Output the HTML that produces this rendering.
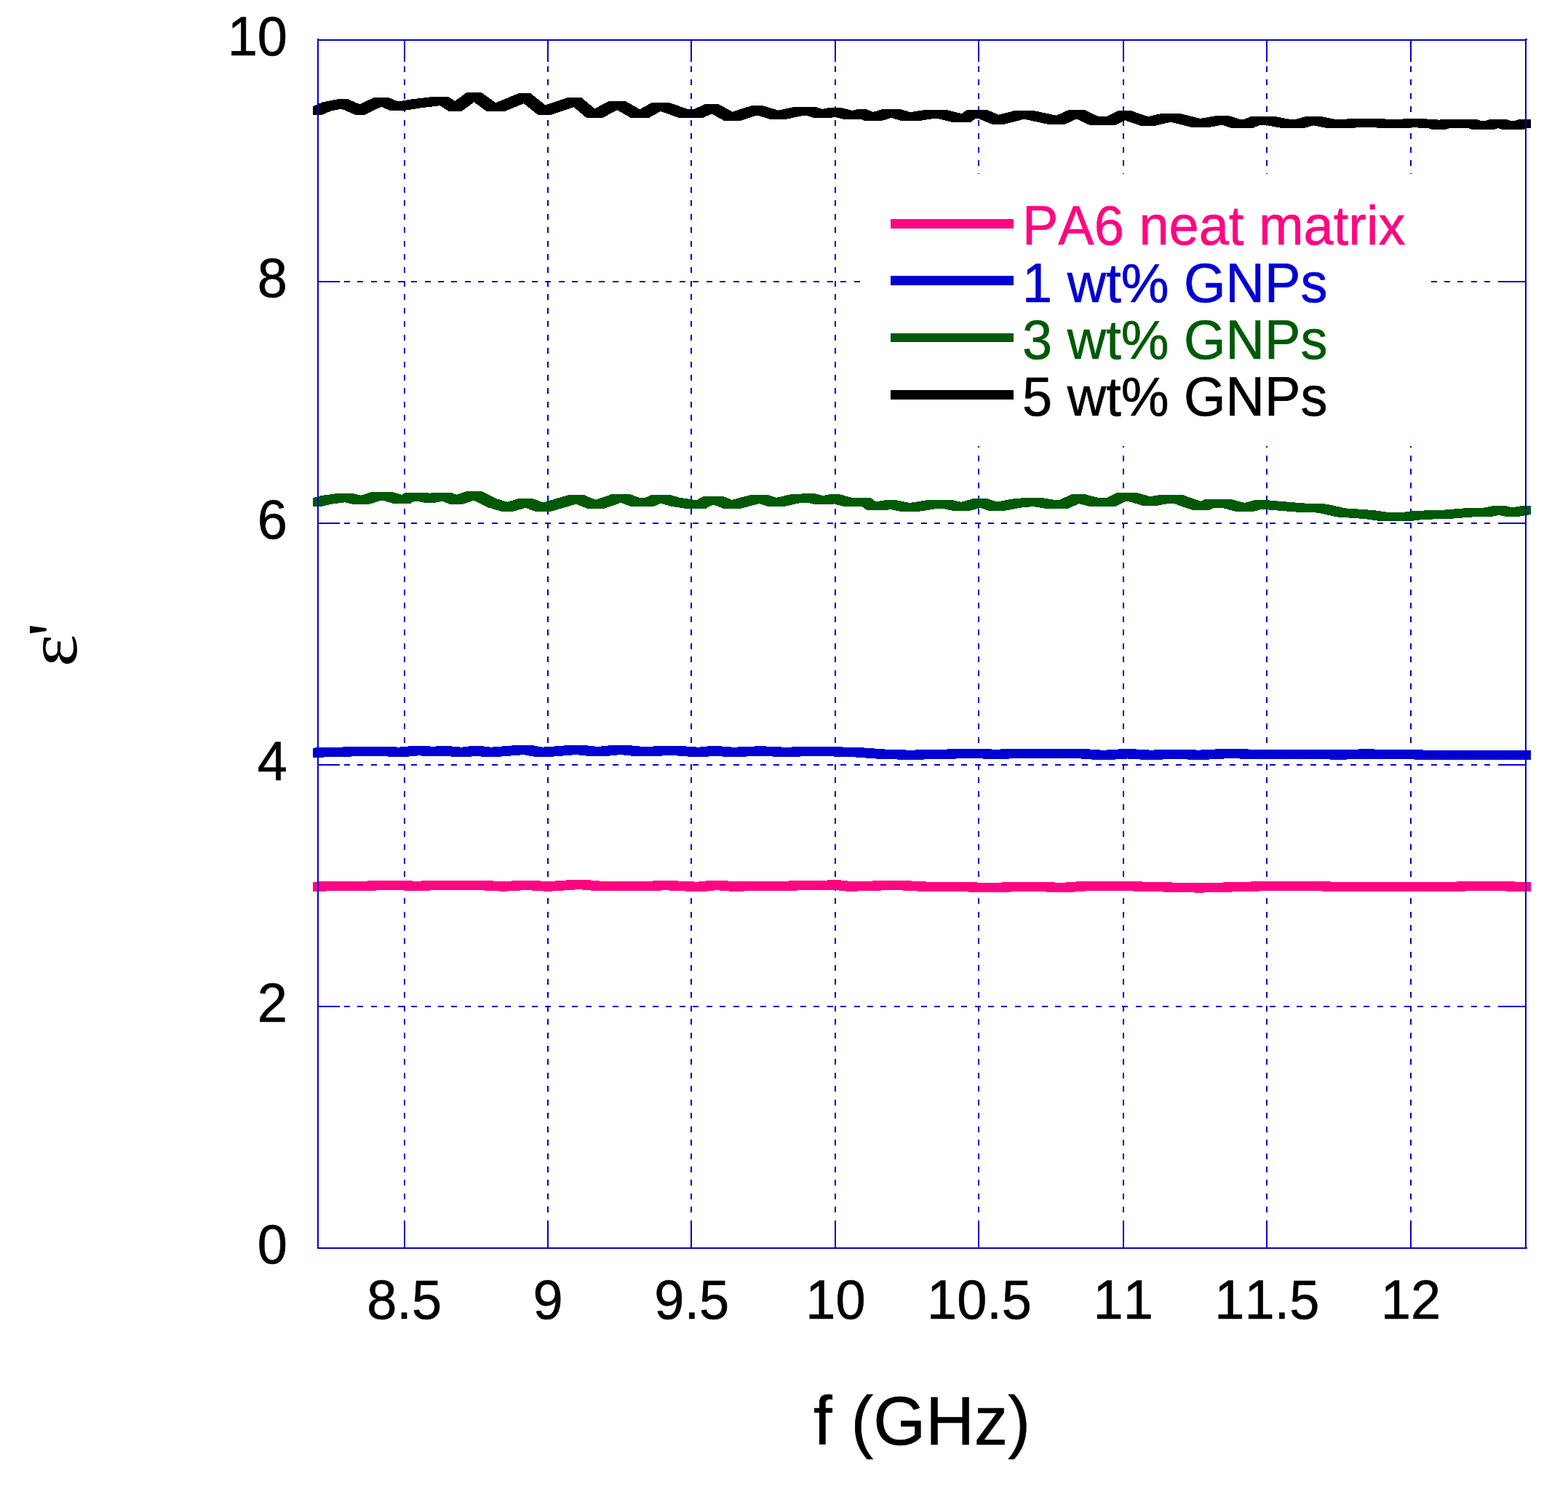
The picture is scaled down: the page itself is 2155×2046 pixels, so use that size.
<!DOCTYPE html>
<html lang="en"><head><meta charset="utf-8"><title>Permittivity vs frequency</title>
<style>html,body{margin:0;padding:0;background:#fff}body{width:2155px;height:2046px;overflow:hidden}svg{display:block}text{font-family:"Liberation Sans",sans-serif;font-kerning:none;stroke-width:0.6px;stroke-linejoin:round}.sym{font-family:"Liberation Serif",serif}</style>
</head><body>
<svg width="2155" height="2046" viewBox="0 0 2155 2046">
<rect width="2155" height="2046" fill="#fff"/>
<g stroke="#0000D2" stroke-width="2" fill="none" shape-rendering="crispEdges" stroke-dasharray="8 10.44">
<line x1="556" y1="54" x2="556" y2="1715"/>
<line x1="753" y1="54" x2="753" y2="1715"/>
<line x1="950" y1="54" x2="950" y2="1715"/>
<line x1="1148" y1="54" x2="1148" y2="1715"/>
<line x1="1345" y1="54" x2="1345" y2="1715"/>
<line x1="1544" y1="54" x2="1544" y2="1715"/>
<line x1="1741" y1="54" x2="1741" y2="1715"/>
<line x1="1939" y1="54" x2="1939" y2="1715"/>
<line x1="436" y1="1383" x2="2097" y2="1383"/>
<line x1="436" y1="1051" x2="2097" y2="1051"/>
<line x1="436" y1="719" x2="2097" y2="719"/>
<line x1="436" y1="387" x2="2097" y2="387"/>
</g>
<rect x="1186" y="239" width="776" height="374" fill="#fff"/>
<g shape-rendering="crispEdges">
<path d="M430.0,1211.6 519.1,1210.3 531.1,1210.3 531.1,1223.3 442.0,1224.6 430.0,1224.6ZM519.1,1210.3 531.1,1210.3 583.2,1210.6 583.2,1223.6 571.2,1223.6 519.1,1223.3ZM571.2,1210.6 650.3,1209.7 662.3,1209.7 662.3,1222.7 583.2,1223.6 571.2,1223.6ZM650.3,1209.7 662.3,1209.7 698.3,1211.5 698.3,1224.5 686.3,1224.5 650.3,1222.7ZM686.3,1211.5 717.3,1209.7 729.3,1209.7 729.3,1222.7 698.3,1224.5 686.3,1224.5ZM717.3,1209.7 729.3,1209.7 759.4,1211.5 759.4,1224.5 747.4,1224.5 717.3,1222.7ZM747.4,1211.5 790.0,1208.7 802.0,1208.7 802.0,1221.7 759.4,1224.5 747.4,1224.5ZM790.0,1208.7 802.0,1208.7 829.5,1211.0 829.5,1224.0 817.5,1224.0 790.0,1221.7ZM817.5,1211.0 829.5,1211.0 899.3,1211.3 899.3,1224.3 887.3,1224.3 817.5,1224.0ZM887.3,1211.3 905.6,1209.8 917.6,1209.8 917.6,1222.8 899.3,1224.3 887.3,1224.3ZM905.6,1209.8 917.6,1209.8 966.1,1212.1 966.1,1225.1 954.1,1225.1 905.6,1222.8ZM954.1,1212.1 978.5,1209.7 990.5,1209.7 990.5,1222.7 966.1,1225.1 954.1,1225.1ZM978.5,1209.7 990.5,1209.7 1015.7,1211.6 1015.7,1224.6 1003.7,1224.6 978.5,1222.7ZM1003.7,1211.6 1078.8,1210.6 1090.8,1210.6 1090.8,1223.6 1015.7,1224.6 1003.7,1224.6ZM1078.8,1210.6 1142.7,1209.4 1154.7,1209.4 1154.7,1222.4 1090.8,1223.6 1078.8,1223.6ZM1142.7,1209.4 1154.7,1209.4 1175.9,1211.6 1175.9,1224.6 1163.9,1224.6 1142.7,1222.4ZM1163.9,1211.6 1224.8,1209.7 1236.8,1209.7 1236.8,1222.7 1175.9,1224.6 1163.9,1224.6ZM1224.8,1209.7 1236.8,1209.7 1279.3,1211.8 1279.3,1224.8 1267.3,1224.8 1224.8,1222.7ZM1267.3,1211.8 1279.3,1211.8 1370.5,1212.8 1370.5,1225.8 1358.5,1225.8 1267.3,1224.8ZM1358.5,1212.8 1419.3,1211.8 1431.3,1211.8 1431.3,1224.8 1370.5,1225.8 1358.5,1225.8ZM1419.3,1211.8 1431.3,1211.8 1467.8,1213.2 1467.8,1226.2 1455.8,1226.2 1419.3,1224.8ZM1455.8,1213.2 1486.3,1211.0 1498.3,1211.0 1498.3,1224.0 1467.8,1226.2 1455.8,1226.2ZM1486.3,1211.0 1498.3,1211.0 1562.0,1211.3 1562.0,1224.3 1550.0,1224.3 1486.3,1224.0ZM1550.0,1211.3 1562.0,1211.3 1606.4,1212.4 1606.4,1225.4 1594.4,1225.4 1550.0,1224.3ZM1594.4,1212.4 1606.4,1212.4 1654.0,1213.5 1654.0,1226.5 1642.0,1226.5 1594.4,1225.4ZM1642.0,1213.5 1727.2,1211.3 1739.2,1211.3 1739.2,1224.3 1654.0,1226.5 1642.0,1226.5ZM1727.2,1211.3 1739.2,1211.3 1818.2,1211.3 1818.2,1224.3 1806.2,1224.3 1727.2,1224.3ZM1806.2,1211.3 1818.2,1211.3 1860.7,1212.1 1860.7,1225.1 1848.7,1225.1 1806.2,1224.3ZM1848.7,1212.1 2055.5,1211.3 2067.5,1211.3 2067.5,1224.3 1860.7,1225.1 1848.7,1225.1ZM2055.5,1211.3 2067.5,1211.3 2104.0,1211.8 2104.0,1224.8 2092.0,1224.8 2055.5,1224.3Z" fill="#FF0582" stroke="none"/>
<path d="M430.0,1027.8 443.0,1026.5 455.0,1026.5 455.0,1039.5 442.0,1040.8 430.0,1040.8ZM443.0,1026.5 455.0,1026.5 483.0,1026.5 483.0,1039.5 471.0,1039.5 443.0,1039.5ZM471.0,1026.5 493.1,1025.8 505.1,1025.8 505.1,1038.8 483.0,1039.5 471.0,1039.5ZM493.1,1025.8 505.1,1025.8 535.1,1025.8 535.1,1038.8 523.1,1038.8 493.1,1038.8ZM523.1,1025.8 535.1,1025.8 550.1,1026.9 550.1,1039.9 538.1,1039.9 523.1,1038.8ZM538.1,1026.9 550.1,1026.9 558.1,1026.9 558.1,1039.9 546.1,1039.9 538.1,1039.9ZM546.1,1026.9 564.2,1025.2 576.2,1025.2 576.2,1038.2 558.1,1039.9 546.1,1039.9ZM564.2,1025.2 576.2,1025.2 584.2,1025.2 584.2,1038.2 572.2,1038.2 564.2,1038.2ZM572.2,1025.2 584.2,1025.2 602.2,1026.0 602.2,1039.0 590.2,1039.0 572.2,1038.2ZM590.2,1026.0 605.2,1025.2 617.2,1025.2 617.2,1038.2 602.2,1039.0 590.2,1039.0ZM605.2,1025.2 617.2,1025.2 636.2,1026.9 636.2,1039.9 624.2,1039.9 605.2,1038.2ZM624.2,1026.9 636.2,1026.9 644.2,1026.9 644.2,1039.9 632.2,1039.9 624.2,1039.9ZM632.2,1026.9 648.3,1025.0 660.3,1025.0 660.3,1038.0 644.2,1039.9 632.2,1039.9ZM648.3,1025.0 660.3,1025.0 676.3,1026.9 676.3,1039.9 664.3,1039.9 648.3,1038.0ZM664.3,1026.9 676.3,1026.9 684.3,1026.9 684.3,1039.9 672.3,1039.9 664.3,1039.9ZM672.3,1026.9 710.3,1023.9 722.3,1023.9 722.3,1036.9 684.3,1039.9 672.3,1039.9ZM710.3,1023.9 722.3,1023.9 730.3,1023.9 730.3,1036.9 718.3,1036.9 710.3,1036.9ZM718.3,1023.9 730.3,1023.9 747.4,1026.9 747.4,1039.9 735.4,1039.9 718.3,1036.9ZM735.4,1026.9 747.4,1026.9 755.4,1026.9 755.4,1039.9 743.4,1039.9 735.4,1039.9ZM743.4,1026.9 782.4,1023.9 794.4,1023.9 794.4,1036.9 755.4,1039.9 743.4,1039.9ZM782.4,1023.9 794.4,1023.9 802.4,1023.9 802.4,1036.9 790.4,1036.9 782.4,1036.9ZM790.4,1023.9 802.4,1023.9 823.5,1026.2 823.5,1039.2 811.5,1039.2 790.4,1036.9ZM811.5,1026.2 823.5,1026.2 831.5,1026.2 831.5,1039.2 819.5,1039.2 811.5,1039.2ZM819.5,1026.2 842.5,1023.9 854.5,1023.9 854.5,1036.9 831.5,1039.2 819.5,1039.2ZM842.5,1023.9 854.5,1023.9 862.5,1023.9 862.5,1036.9 850.5,1036.9 842.5,1036.9ZM850.5,1023.9 862.5,1023.9 886.5,1026.2 886.5,1039.2 874.5,1039.2 850.5,1036.9ZM874.5,1026.2 886.5,1026.2 894.5,1026.2 894.5,1039.2 882.5,1039.2 874.5,1039.2ZM882.5,1026.2 908.6,1025.0 920.6,1025.0 920.6,1038.0 894.5,1039.2 882.5,1039.2ZM908.6,1025.0 920.6,1025.0 935.6,1025.0 935.6,1038.0 923.6,1038.0 908.6,1038.0ZM923.6,1025.0 935.6,1025.0 962.6,1026.9 962.6,1039.9 950.6,1039.9 923.6,1038.0ZM950.6,1026.9 962.6,1026.9 969.6,1026.9 969.6,1039.9 957.6,1039.9 950.6,1039.9ZM957.6,1026.9 975.7,1025.2 987.7,1025.2 987.7,1038.2 969.6,1039.9 957.6,1039.9ZM975.7,1025.2 987.7,1025.2 1010.7,1026.9 1010.7,1039.9 998.7,1039.9 975.7,1038.2ZM998.7,1026.9 1010.7,1026.9 1017.7,1026.9 1017.7,1039.9 1005.7,1039.9 998.7,1039.9ZM1005.7,1026.9 1039.2,1025.4 1051.2,1025.4 1051.2,1038.4 1017.7,1039.9 1005.7,1039.9ZM1039.2,1025.4 1051.2,1025.4 1075.6,1026.6 1075.6,1039.6 1063.6,1039.6 1039.2,1038.4ZM1063.6,1026.6 1139.7,1026.3 1151.7,1026.3 1151.7,1039.3 1075.6,1039.6 1063.6,1039.6ZM1139.7,1026.3 1151.7,1026.3 1188.1,1027.5 1188.1,1040.5 1176.1,1040.5 1139.7,1039.3ZM1176.1,1027.5 1188.1,1027.5 1218.5,1029.7 1218.5,1042.7 1206.5,1042.7 1176.1,1040.5ZM1206.5,1029.7 1218.5,1029.7 1258.0,1030.9 1258.0,1043.9 1246.0,1043.9 1206.5,1042.7ZM1246.0,1030.9 1282.5,1029.7 1294.5,1029.7 1294.5,1042.7 1258.0,1043.9 1246.0,1043.9ZM1282.5,1029.7 1343.3,1029.1 1355.3,1029.1 1355.3,1042.1 1294.5,1042.7 1282.5,1042.7ZM1343.3,1029.1 1355.3,1029.1 1373.5,1030.0 1373.5,1043.0 1361.5,1043.0 1343.3,1042.1ZM1361.5,1030.0 1398.1,1028.7 1410.1,1028.7 1410.1,1041.7 1373.5,1043.0 1361.5,1043.0ZM1398.1,1028.7 1410.1,1028.7 1455.6,1029.1 1455.6,1042.1 1443.6,1042.1 1398.1,1041.7ZM1443.6,1029.1 1474.1,1028.7 1486.1,1028.7 1486.1,1041.7 1455.6,1042.1 1443.6,1042.1ZM1474.1,1028.7 1486.1,1028.7 1522.5,1031.2 1522.5,1044.2 1510.5,1044.2 1474.1,1041.7ZM1510.5,1031.2 1543.3,1029.1 1555.3,1029.1 1555.3,1042.1 1522.5,1044.2 1510.5,1044.2ZM1543.3,1029.1 1555.3,1029.1 1585.4,1030.9 1585.4,1043.9 1573.4,1043.9 1543.3,1042.1ZM1573.4,1030.9 1611.6,1029.7 1623.6,1029.7 1623.6,1042.7 1585.4,1043.9 1573.4,1043.9ZM1611.6,1029.7 1623.6,1029.7 1654.0,1030.9 1654.0,1043.9 1642.0,1043.9 1611.6,1042.7ZM1642.0,1030.9 1672.4,1029.4 1684.4,1029.4 1684.4,1042.4 1654.0,1043.9 1642.0,1043.9ZM1672.4,1029.4 1684.4,1029.4 1769.6,1029.7 1769.6,1042.7 1757.6,1042.7 1672.4,1042.4ZM1757.6,1029.7 1769.6,1029.7 1848.7,1030.6 1848.7,1043.6 1836.7,1043.6 1757.6,1042.7ZM1836.7,1030.6 1869.7,1029.4 1881.7,1029.4 1881.7,1042.4 1848.7,1043.6 1836.7,1043.6ZM1869.7,1029.4 1881.7,1029.4 1982.4,1030.9 1982.4,1043.9 1970.4,1043.9 1869.7,1042.4ZM1970.4,1030.9 1982.4,1030.9 2104.0,1030.9 2104.0,1043.9 2092.0,1043.9 1970.4,1043.9Z" fill="#0000D2" stroke="none"/>
<path d="M430.0,684.0 443.4,680.8 455.4,680.8 455.4,692.8 442.0,696.0 430.0,696.0ZM443.4,680.8 463.3,678.0 475.3,678.0 475.3,690.0 455.4,692.8 443.4,692.8ZM463.3,678.0 475.3,678.0 485.6,678.0 485.6,690.0 473.6,690.0 463.3,690.0ZM473.6,678.0 485.6,678.0 496.6,681.0 496.6,693.0 484.6,693.0 473.6,690.0ZM484.6,681.0 496.6,681.0 506.9,681.0 506.9,693.0 494.9,693.0 484.6,693.0ZM494.9,681.0 510.4,676.0 522.4,676.0 522.4,688.0 506.9,693.0 494.9,693.0ZM510.4,676.0 522.4,676.0 538.8,676.0 538.8,688.0 526.8,688.0 510.4,688.0ZM526.8,676.0 538.8,676.0 552.8,680.0 552.8,692.0 540.8,692.0 526.8,688.0ZM540.8,680.0 552.8,680.0 564.6,680.0 564.6,692.0 552.6,692.0 540.8,692.0ZM552.6,680.0 556.1,677.0 568.1,677.0 568.1,689.0 564.6,692.0 552.6,692.0ZM556.1,677.0 568.1,677.0 585.9,677.0 585.9,689.0 573.9,689.0 556.1,689.0ZM573.9,677.0 585.9,677.0 596.8,679.0 596.8,691.0 584.8,691.0 573.9,689.0ZM584.8,679.0 594.0,677.0 606.0,677.0 606.0,689.0 596.8,691.0 584.8,691.0ZM594.0,677.0 606.0,677.0 620.9,677.0 620.9,689.0 608.9,689.0 594.0,689.0ZM608.9,677.0 620.9,677.0 630.3,681.0 630.3,693.0 618.3,693.0 608.9,689.0ZM618.3,681.0 630.3,681.0 636.0,681.0 636.0,693.0 624.0,693.0 618.3,693.0ZM624.0,681.0 641.2,675.0 653.2,675.0 653.2,687.0 636.0,693.0 624.0,693.0ZM641.2,675.0 653.2,675.0 662.0,675.0 662.0,687.0 650.0,687.0 641.2,687.0ZM650.0,675.0 662.0,675.0 683.4,685.5 683.4,697.5 671.4,697.5 650.0,687.0ZM671.4,685.5 683.4,685.5 701.8,691.0 701.8,703.0 689.8,703.0 671.4,697.5ZM689.8,691.0 701.8,691.0 704.5,691.0 704.5,703.0 692.5,703.0 689.8,703.0ZM692.5,691.0 713.2,685.0 725.2,685.0 725.2,697.0 704.5,703.0 692.5,703.0ZM713.2,685.0 725.2,685.0 731.7,685.0 731.7,697.0 719.7,697.0 713.2,697.0ZM719.7,685.0 731.7,685.0 748.1,691.0 748.1,703.0 736.1,703.0 719.7,697.0ZM736.1,691.0 748.1,691.0 756.8,691.0 756.8,703.0 744.8,703.0 736.1,703.0ZM744.8,691.0 781.6,680.0 793.6,680.0 793.6,692.0 756.8,703.0 744.8,703.0ZM781.6,680.0 793.6,680.0 802.4,680.0 802.4,692.0 790.4,692.0 781.6,692.0ZM790.4,680.0 802.4,680.0 819.5,687.0 819.5,699.0 807.5,699.0 790.4,692.0ZM807.5,687.0 819.5,687.0 829.8,687.0 829.8,699.0 817.8,699.0 807.5,699.0ZM817.8,687.0 840.9,679.0 852.9,679.0 852.9,691.0 829.8,699.0 817.8,699.0ZM840.9,679.0 852.9,679.0 866.2,679.0 866.2,691.0 854.2,691.0 840.9,691.0ZM854.2,679.0 866.2,679.0 878.8,684.0 878.8,696.0 866.8,696.0 854.2,691.0ZM866.8,684.0 878.8,684.0 898.1,684.0 898.1,696.0 886.1,696.0 866.8,696.0ZM886.1,684.0 895.7,680.0 907.7,680.0 907.7,692.0 898.1,696.0 886.1,696.0ZM895.7,680.0 907.7,680.0 921.0,680.0 921.0,692.0 909.0,692.0 895.7,692.0ZM909.0,680.0 921.0,680.0 933.3,683.5 933.3,695.5 921.3,695.5 909.0,692.0ZM921.3,683.5 933.3,683.5 954.8,687.0 954.8,699.0 942.8,699.0 921.3,695.5ZM942.8,687.0 954.8,687.0 969.6,687.0 969.6,699.0 957.6,699.0 942.8,699.0ZM957.6,687.0 967.0,682.0 979.0,682.0 979.0,694.0 969.6,699.0 957.6,699.0ZM967.0,682.0 979.0,682.0 994.0,682.0 994.0,694.0 982.0,694.0 967.0,694.0ZM982.0,682.0 994.0,682.0 1006.4,687.0 1006.4,699.0 994.4,699.0 982.0,694.0ZM994.4,687.0 1006.4,687.0 1017.4,687.0 1017.4,699.0 1005.4,699.0 994.4,699.0ZM1005.4,687.0 1031.6,680.0 1043.6,680.0 1043.6,692.0 1017.4,699.0 1005.4,699.0ZM1031.6,680.0 1043.6,680.0 1055.4,680.0 1055.4,692.0 1043.4,692.0 1031.6,692.0ZM1043.4,680.0 1055.4,680.0 1068.0,684.0 1068.0,696.0 1056.0,696.0 1043.4,692.0ZM1056.0,684.0 1068.0,684.0 1078.2,684.0 1078.2,696.0 1066.2,696.0 1056.0,696.0ZM1066.2,684.0 1086.3,679.4 1098.3,679.4 1098.3,691.4 1078.2,696.0 1066.2,696.0ZM1086.3,679.4 1098.3,679.4 1105.8,679.4 1105.8,691.4 1093.8,691.4 1086.3,691.4ZM1093.8,679.4 1106.6,678.0 1118.6,678.0 1118.6,690.0 1105.8,691.4 1093.8,691.4ZM1106.6,678.0 1118.6,678.0 1130.8,681.0 1130.8,693.0 1118.8,693.0 1106.6,690.0ZM1118.8,681.0 1130.8,681.0 1143.8,681.0 1143.8,693.0 1131.8,693.0 1118.8,693.0ZM1131.8,681.0 1141.6,679.0 1153.6,679.0 1153.6,691.0 1143.8,693.0 1131.8,693.0ZM1141.6,679.0 1153.6,679.0 1171.3,684.0 1171.3,696.0 1159.3,696.0 1141.6,691.0ZM1159.3,684.0 1171.3,684.0 1196.7,684.0 1196.7,696.0 1184.7,696.0 1159.3,696.0ZM1184.7,684.0 1196.7,684.0 1203.2,689.0 1203.2,701.0 1191.2,701.0 1184.7,696.0ZM1191.2,689.0 1203.2,689.0 1217.9,689.0 1217.9,701.0 1205.9,701.0 1191.2,701.0ZM1205.9,689.0 1218.3,687.0 1230.3,687.0 1230.3,699.0 1217.9,701.0 1205.9,701.0ZM1218.3,687.0 1230.3,687.0 1250.3,691.0 1250.3,703.0 1238.3,703.0 1218.3,699.0ZM1238.3,691.0 1250.3,691.0 1262.1,691.0 1262.1,703.0 1250.1,703.0 1238.3,703.0ZM1250.1,691.0 1275.4,687.0 1287.4,687.0 1287.4,699.0 1262.1,703.0 1250.1,703.0ZM1275.4,687.0 1287.4,687.0 1308.3,687.0 1308.3,699.0 1296.3,699.0 1275.4,699.0ZM1296.3,687.0 1308.3,687.0 1322.4,690.0 1322.4,702.0 1310.4,702.0 1296.3,699.0ZM1310.4,690.0 1322.4,690.0 1332.7,690.0 1332.7,702.0 1320.7,702.0 1310.4,702.0ZM1320.7,690.0 1337.8,685.0 1349.8,685.0 1349.8,697.0 1332.7,702.0 1320.7,702.0ZM1337.8,685.0 1349.8,685.0 1357.0,685.0 1357.0,697.0 1345.0,697.0 1337.8,697.0ZM1345.0,685.0 1357.0,685.0 1371.0,690.0 1371.0,702.0 1359.0,702.0 1345.0,697.0ZM1359.0,690.0 1371.0,690.0 1379.8,690.0 1379.8,702.0 1367.8,702.0 1359.0,702.0ZM1367.8,690.0 1390.8,685.6 1402.8,685.6 1402.8,697.6 1379.8,702.0 1367.8,702.0ZM1390.8,685.6 1409.2,684.0 1421.2,684.0 1421.2,696.0 1402.8,697.6 1390.8,697.6ZM1409.2,684.0 1421.2,684.0 1431.5,684.0 1431.5,696.0 1419.5,696.0 1409.2,696.0ZM1419.5,684.0 1431.5,684.0 1450.1,687.0 1450.1,699.0 1438.1,699.0 1419.5,696.0ZM1438.1,687.0 1450.1,687.0 1467.9,687.0 1467.9,699.0 1455.9,699.0 1438.1,699.0ZM1455.9,687.0 1473.1,679.0 1485.1,679.0 1485.1,691.0 1467.9,699.0 1455.9,699.0ZM1473.1,679.0 1485.1,679.0 1490.8,679.0 1490.8,691.0 1478.8,691.0 1473.1,691.0ZM1478.8,679.0 1490.8,679.0 1509.4,684.0 1509.4,696.0 1497.4,696.0 1478.8,691.0ZM1497.4,684.0 1509.4,684.0 1533.3,684.0 1533.3,696.0 1521.3,696.0 1497.4,696.0ZM1521.3,684.0 1535.3,677.0 1547.3,677.0 1547.3,689.0 1533.3,696.0 1521.3,696.0ZM1535.3,677.0 1547.3,677.0 1562.8,677.0 1562.8,689.0 1550.8,689.0 1535.3,689.0ZM1550.8,677.0 1562.8,677.0 1583.0,683.0 1583.0,695.0 1571.0,695.0 1550.8,689.0ZM1571.0,683.0 1583.0,683.0 1588.7,683.0 1588.7,695.0 1576.7,695.0 1571.0,695.0ZM1576.7,683.0 1593.8,680.0 1605.8,680.0 1605.8,692.0 1588.7,695.0 1576.7,695.0ZM1593.8,680.0 1605.8,680.0 1625.2,680.0 1625.2,692.0 1613.2,692.0 1593.8,692.0ZM1613.2,680.0 1625.2,680.0 1651.4,689.0 1651.4,701.0 1639.4,701.0 1613.2,692.0ZM1639.4,689.0 1651.4,689.0 1661.7,689.0 1661.7,701.0 1649.7,701.0 1639.4,701.0ZM1649.7,689.0 1656.1,686.0 1668.1,686.0 1668.1,698.0 1661.7,701.0 1649.7,701.0ZM1656.1,686.0 1668.1,686.0 1692.1,686.0 1692.1,698.0 1680.1,698.0 1656.1,698.0ZM1680.1,686.0 1692.1,686.0 1710.6,691.0 1710.6,703.0 1698.6,703.0 1680.1,698.0ZM1698.6,691.0 1710.6,691.0 1722.4,691.0 1722.4,703.0 1710.4,703.0 1698.6,703.0ZM1710.4,691.0 1724.6,687.0 1736.6,687.0 1736.6,699.0 1722.4,703.0 1710.4,703.0ZM1724.6,687.0 1736.6,687.0 1739.2,687.0 1739.2,699.0 1727.2,699.0 1724.6,699.0ZM1727.2,687.0 1739.2,687.0 1766.6,689.4 1766.6,701.4 1754.6,701.4 1727.2,699.0ZM1754.6,689.4 1766.6,689.4 1792.6,691.5 1792.6,703.5 1780.6,703.5 1754.6,701.4ZM1780.6,691.5 1792.6,691.5 1798.6,691.5 1798.6,703.5 1786.6,703.5 1780.6,703.5ZM1786.6,691.5 1798.6,691.5 1823.0,692.6 1823.0,704.6 1811.0,704.6 1786.6,703.5ZM1811.0,692.6 1823.0,692.6 1849.5,698.4 1849.5,710.4 1837.5,710.4 1811.0,704.6ZM1837.5,698.4 1849.5,698.4 1887.4,701.0 1887.4,713.0 1875.4,713.0 1837.5,710.4ZM1875.4,701.0 1887.4,701.0 1909.0,704.0 1909.0,716.0 1897.0,716.0 1875.4,713.0ZM1897.0,704.0 1909.0,704.0 1939.0,704.0 1939.0,716.0 1927.0,716.0 1897.0,716.0ZM1927.0,704.0 1943.8,701.9 1955.8,701.9 1955.8,713.9 1939.0,716.0 1927.0,716.0ZM1943.8,701.9 1981.9,700.8 1993.9,700.8 1993.9,712.8 1955.8,713.9 1943.8,713.9ZM1981.9,700.8 2013.9,698.3 2025.9,698.3 2025.9,710.3 1993.9,712.8 1981.9,712.8ZM2013.9,698.3 2025.9,698.3 2047.9,698.3 2047.9,710.3 2035.9,710.3 2013.9,710.3ZM2035.9,698.3 2052.0,695.0 2064.0,695.0 2064.0,707.0 2047.9,710.3 2035.9,710.3ZM2052.0,695.0 2064.0,695.0 2068.2,695.0 2068.2,707.0 2056.2,707.0 2052.0,707.0ZM2056.2,695.0 2068.2,695.0 2082.2,698.0 2082.2,710.0 2070.2,710.0 2056.2,707.0ZM2070.2,698.0 2082.2,698.0 2086.4,698.0 2086.4,710.0 2074.4,710.0 2070.2,710.0ZM2074.4,698.0 2092.0,695.0 2104.0,695.0 2104.0,707.0 2086.4,710.0 2074.4,710.0Z" fill="#005A05" stroke="none"/>
<path d="M430.0,146.0 443.0,140.5 455.0,140.5 455.0,152.5 442.0,158.0 430.0,158.0ZM443.0,140.5 465.4,136.0 477.4,136.0 477.4,148.0 455.0,152.5 443.0,152.5ZM465.4,136.0 477.4,136.0 501.0,146.0 501.0,158.0 489.0,158.0 465.4,148.0ZM489.0,146.0 513.7,134.0 525.7,134.0 525.7,146.0 501.0,158.0 489.0,158.0ZM513.7,134.0 525.7,134.0 534.0,134.0 534.0,146.0 522.0,146.0 513.7,146.0ZM522.0,134.0 534.0,134.0 548.5,140.0 548.5,152.0 536.5,152.0 522.0,146.0ZM536.5,140.0 548.5,140.0 555.2,140.0 555.2,152.0 543.2,152.0 536.5,152.0ZM543.2,140.0 565.0,136.5 577.0,136.5 577.0,148.5 555.2,152.0 543.2,152.0ZM565.0,136.5 594.3,133.0 606.3,133.0 606.3,145.0 577.0,148.5 565.0,148.5ZM594.3,133.0 606.3,133.0 616.1,133.0 616.1,145.0 604.1,145.0 594.3,145.0ZM604.1,133.0 616.1,133.0 629.1,141.0 629.1,153.0 617.1,153.0 604.1,145.0ZM617.1,141.0 629.1,141.0 634.3,141.0 634.3,153.0 622.3,153.0 617.1,153.0ZM622.3,141.0 641.4,127.0 653.4,127.0 653.4,139.0 634.3,153.0 622.3,153.0ZM641.4,127.0 653.4,127.0 661.7,127.0 661.7,139.0 649.7,139.0 641.4,139.0ZM649.7,127.0 661.7,127.0 680.8,141.0 680.8,153.0 668.8,153.0 649.7,139.0ZM668.8,141.0 680.8,141.0 693.6,141.0 693.6,153.0 681.6,153.0 668.8,153.0ZM681.6,141.0 713.5,128.0 725.5,128.0 725.5,140.0 693.6,153.0 681.6,153.0ZM713.5,128.0 725.5,128.0 729.2,128.0 729.2,140.0 717.2,140.0 713.5,140.0ZM717.2,128.0 729.2,128.0 751.4,146.0 751.4,158.0 739.4,158.0 717.2,140.0ZM739.4,146.0 751.4,146.0 756.6,146.0 756.6,158.0 744.6,158.0 739.4,158.0ZM744.6,146.0 780.4,134.0 792.4,134.0 792.4,146.0 756.6,158.0 744.6,158.0ZM780.4,134.0 792.4,134.0 799.1,134.0 799.1,146.0 787.1,146.0 780.4,146.0ZM787.1,134.0 799.1,134.0 818.3,150.0 818.3,162.0 806.3,162.0 787.1,146.0ZM806.3,150.0 818.3,150.0 828.0,150.0 828.0,162.0 816.0,162.0 806.3,162.0ZM816.0,150.0 836.6,139.0 848.6,139.0 848.6,151.0 828.0,162.0 816.0,162.0ZM836.6,139.0 848.6,139.0 859.9,139.0 859.9,151.0 847.9,151.0 836.6,151.0ZM847.9,139.0 859.9,139.0 879.0,150.0 879.0,162.0 867.0,162.0 847.9,151.0ZM867.0,150.0 879.0,150.0 891.8,150.0 891.8,162.0 879.8,162.0 867.0,162.0ZM879.8,150.0 895.9,141.0 907.9,141.0 907.9,153.0 891.8,162.0 879.8,162.0ZM895.9,141.0 907.9,141.0 919.2,141.0 919.2,153.0 907.2,153.0 895.9,153.0ZM907.2,141.0 919.2,141.0 945.9,150.0 945.9,162.0 933.9,162.0 907.2,153.0ZM933.9,150.0 945.9,150.0 966.3,150.0 966.3,162.0 954.3,162.0 933.9,162.0ZM954.3,150.0 968.8,143.0 980.8,143.0 980.8,155.0 966.3,162.0 954.3,162.0ZM968.8,143.0 980.8,143.0 987.6,143.0 987.6,155.0 975.6,155.0 968.8,155.0ZM975.6,143.0 987.6,143.0 1007.4,154.0 1007.4,166.0 995.4,166.0 975.6,155.0ZM995.4,154.0 1007.4,154.0 1017.2,154.0 1017.2,166.0 1005.2,166.0 995.4,166.0ZM1005.2,154.0 1033.3,145.0 1045.3,145.0 1045.3,157.0 1017.2,166.0 1005.2,166.0ZM1033.3,145.0 1045.3,145.0 1047.5,145.0 1047.5,157.0 1035.5,157.0 1033.3,157.0ZM1035.5,145.0 1047.5,145.0 1071.2,152.0 1071.2,164.0 1059.2,164.0 1035.5,157.0ZM1059.2,152.0 1071.2,152.0 1079.5,152.0 1079.5,164.0 1067.5,164.0 1059.2,164.0ZM1067.5,152.0 1091.1,147.0 1103.1,147.0 1103.1,159.0 1079.5,164.0 1067.5,164.0ZM1091.1,147.0 1103.1,147.0 1122.0,147.0 1122.0,159.0 1110.0,159.0 1091.1,159.0ZM1110.0,147.0 1122.0,147.0 1130.8,150.0 1130.8,162.0 1118.8,162.0 1110.0,159.0ZM1118.8,150.0 1130.8,150.0 1140.8,150.0 1140.8,162.0 1128.8,162.0 1118.8,162.0ZM1128.8,150.0 1139.8,148.0 1151.8,148.0 1151.8,160.0 1140.8,162.0 1128.8,162.0ZM1139.8,148.0 1151.8,148.0 1155.5,148.0 1155.5,160.0 1143.5,160.0 1139.8,160.0ZM1143.5,148.0 1155.5,148.0 1171.5,152.0 1171.5,164.0 1159.5,164.0 1143.5,160.0ZM1159.5,152.0 1171.5,152.0 1182.8,152.0 1182.8,164.0 1170.8,164.0 1159.5,164.0ZM1170.8,152.0 1178.9,150.0 1190.9,150.0 1190.9,162.0 1182.8,164.0 1170.8,164.0ZM1178.9,150.0 1190.9,150.0 1200.4,154.0 1200.4,166.0 1188.4,166.0 1178.9,162.0ZM1188.4,154.0 1200.4,154.0 1211.7,154.0 1211.7,166.0 1199.7,166.0 1188.4,166.0ZM1199.7,154.0 1212.7,150.0 1224.7,150.0 1224.7,162.0 1211.7,166.0 1199.7,166.0ZM1212.7,150.0 1224.7,150.0 1237.6,150.0 1237.6,162.0 1225.6,162.0 1212.7,162.0ZM1225.6,150.0 1237.6,150.0 1250.6,154.0 1250.6,166.0 1238.6,166.0 1225.6,162.0ZM1238.6,154.0 1250.6,154.0 1263.4,154.0 1263.4,166.0 1251.4,166.0 1238.6,166.0ZM1251.4,154.0 1271.1,151.0 1283.1,151.0 1283.1,163.0 1263.4,166.0 1251.4,166.0ZM1271.1,151.0 1283.1,151.0 1300.5,151.0 1300.5,163.0 1288.5,163.0 1271.1,163.0ZM1288.5,151.0 1300.5,151.0 1321.2,156.0 1321.2,168.0 1309.2,168.0 1288.5,163.0ZM1309.2,156.0 1321.2,156.0 1334.0,156.0 1334.0,168.0 1322.0,168.0 1309.2,168.0ZM1322.0,156.0 1328.9,151.0 1340.9,151.0 1340.9,163.0 1334.0,168.0 1322.0,168.0ZM1328.9,151.0 1340.9,151.0 1356.8,151.0 1356.8,163.0 1344.8,163.0 1328.9,163.0ZM1344.8,151.0 1356.8,151.0 1375.8,159.0 1375.8,171.0 1363.8,171.0 1344.8,163.0ZM1363.8,159.0 1375.8,159.0 1379.5,159.0 1379.5,171.0 1367.5,171.0 1363.8,171.0ZM1367.5,159.0 1394.3,152.0 1406.3,152.0 1406.3,164.0 1379.5,171.0 1367.5,171.0ZM1394.3,152.0 1406.3,152.0 1420.6,152.0 1420.6,164.0 1408.6,164.0 1394.3,164.0ZM1408.6,152.0 1420.6,152.0 1453.4,159.0 1453.4,171.0 1441.4,171.0 1408.6,164.0ZM1441.4,159.0 1453.4,159.0 1463.1,159.0 1463.1,171.0 1451.1,171.0 1441.4,171.0ZM1451.1,159.0 1468.8,151.0 1480.8,151.0 1480.8,163.0 1463.1,171.0 1451.1,171.0ZM1468.8,151.0 1480.8,151.0 1490.6,151.0 1490.6,163.0 1478.6,163.0 1468.8,163.0ZM1478.6,151.0 1490.6,151.0 1509.6,160.0 1509.6,172.0 1497.6,172.0 1478.6,163.0ZM1497.6,160.0 1509.6,160.0 1533.1,160.0 1533.1,172.0 1521.1,172.0 1497.6,172.0ZM1521.1,160.0 1537.1,152.0 1549.1,152.0 1549.1,164.0 1533.1,172.0 1521.1,172.0ZM1537.1,152.0 1549.1,152.0 1554.3,152.0 1554.3,164.0 1542.3,164.0 1537.1,164.0ZM1542.3,152.0 1554.3,152.0 1580.2,161.0 1580.2,173.0 1568.2,173.0 1542.3,164.0ZM1568.2,161.0 1580.2,161.0 1587.0,161.0 1587.0,173.0 1575.0,173.0 1568.2,173.0ZM1575.0,161.0 1595.6,156.0 1607.6,156.0 1607.6,168.0 1587.0,173.0 1575.0,173.0ZM1595.6,156.0 1607.6,156.0 1621.9,156.0 1621.9,168.0 1609.9,168.0 1595.6,168.0ZM1609.9,156.0 1621.9,156.0 1650.2,163.0 1650.2,175.0 1638.2,175.0 1609.9,168.0ZM1638.2,163.0 1650.2,163.0 1661.5,163.0 1661.5,175.0 1649.5,175.0 1638.2,175.0ZM1649.5,163.0 1671.6,159.0 1683.6,159.0 1683.6,171.0 1661.5,175.0 1649.5,175.0ZM1671.6,159.0 1683.6,159.0 1688.8,159.0 1688.8,171.0 1676.8,171.0 1671.6,171.0ZM1676.8,159.0 1688.8,159.0 1704.8,164.0 1704.8,176.0 1692.8,176.0 1676.8,171.0ZM1692.8,164.0 1704.8,164.0 1722.2,164.0 1722.2,176.0 1710.2,176.0 1692.8,176.0ZM1710.2,164.0 1718.7,160.0 1730.7,160.0 1730.7,172.0 1722.2,176.0 1710.2,176.0ZM1718.7,160.0 1730.7,160.0 1752.6,160.0 1752.6,172.0 1740.6,172.0 1718.7,172.0ZM1740.6,160.0 1752.6,160.0 1773.2,164.0 1773.2,176.0 1761.2,176.0 1740.6,172.0ZM1761.2,164.0 1773.2,164.0 1792.1,164.0 1792.1,176.0 1780.1,176.0 1761.2,176.0ZM1780.1,164.0 1794.6,160.0 1806.6,160.0 1806.6,172.0 1792.1,176.0 1780.1,176.0ZM1794.6,160.0 1806.6,160.0 1815.0,160.0 1815.0,172.0 1803.0,172.0 1794.6,172.0ZM1803.0,160.0 1815.0,160.0 1835.7,164.0 1835.7,176.0 1823.7,176.0 1803.0,172.0ZM1823.7,164.0 1835.7,164.0 1859.7,164.0 1859.7,176.0 1847.7,176.0 1823.7,176.0ZM1847.7,164.0 1853.7,163.0 1865.7,163.0 1865.7,175.0 1859.7,176.0 1847.7,176.0ZM1853.7,163.0 1865.7,163.0 1900.8,163.0 1900.8,175.0 1888.8,175.0 1853.7,175.0ZM1888.8,163.0 1900.8,163.0 1906.8,164.0 1906.8,176.0 1894.8,176.0 1888.8,175.0ZM1894.8,164.0 1906.8,164.0 1936.8,164.0 1936.8,176.0 1924.8,176.0 1894.8,176.0ZM1924.8,164.0 1930.8,163.0 1942.8,163.0 1942.8,175.0 1936.8,176.0 1924.8,176.0ZM1930.8,163.0 1942.8,163.0 1957.8,163.0 1957.8,175.0 1945.8,175.0 1930.8,175.0ZM1945.8,163.0 1957.8,163.0 1963.8,164.0 1963.8,176.0 1951.8,176.0 1945.8,175.0ZM1951.8,164.0 1963.8,164.0 1974.8,164.0 1974.8,176.0 1962.8,176.0 1951.8,176.0ZM1962.8,164.0 1974.8,164.0 1979.9,166.0 1979.9,178.0 1967.9,178.0 1962.8,176.0ZM1967.9,166.0 1979.9,166.0 1986.9,166.0 1986.9,178.0 1974.9,178.0 1967.9,178.0ZM1974.9,166.0 1979.9,164.0 1991.9,164.0 1991.9,176.0 1986.9,178.0 1974.9,178.0ZM1979.9,164.0 1991.9,164.0 2029.9,164.0 2029.9,176.0 2017.9,176.0 1979.9,176.0ZM2017.9,164.0 2029.9,164.0 2034.9,166.0 2034.9,178.0 2022.9,178.0 2017.9,176.0ZM2022.9,166.0 2034.9,166.0 2053.9,166.0 2053.9,178.0 2041.9,178.0 2022.9,178.0ZM2041.9,166.0 2046.9,164.0 2058.9,164.0 2058.9,176.0 2053.9,178.0 2041.9,178.0ZM2046.9,164.0 2058.9,164.0 2070.0,164.0 2070.0,176.0 2058.0,176.0 2046.9,176.0ZM2058.0,164.0 2070.0,164.0 2076.0,166.0 2076.0,178.0 2064.0,178.0 2058.0,176.0ZM2064.0,166.0 2076.0,166.0 2093.0,166.0 2093.0,178.0 2081.0,178.0 2064.0,178.0ZM2081.0,166.0 2087.0,164.0 2099.0,164.0 2099.0,176.0 2093.0,178.0 2081.0,178.0ZM2087.0,164.0 2099.0,164.0 2104.0,164.0 2104.0,176.0 2092.0,176.0 2087.0,176.0Z" fill="#000000" stroke="none"/>
</g>
<g stroke="#0000D2" stroke-width="2" fill="none" shape-rendering="crispEdges">
<line x1="556" y1="55" x2="556" y2="85"/><line x1="556" y1="1685" x2="556" y2="1715"/>
<line x1="753" y1="55" x2="753" y2="85"/><line x1="753" y1="1685" x2="753" y2="1715"/>
<line x1="950" y1="55" x2="950" y2="85"/><line x1="950" y1="1685" x2="950" y2="1715"/>
<line x1="1148" y1="55" x2="1148" y2="85"/><line x1="1148" y1="1685" x2="1148" y2="1715"/>
<line x1="1345" y1="55" x2="1345" y2="85"/><line x1="1345" y1="1685" x2="1345" y2="1715"/>
<line x1="1544" y1="55" x2="1544" y2="85"/><line x1="1544" y1="1685" x2="1544" y2="1715"/>
<line x1="1741" y1="55" x2="1741" y2="85"/><line x1="1741" y1="1685" x2="1741" y2="1715"/>
<line x1="1939" y1="55" x2="1939" y2="85"/><line x1="1939" y1="1685" x2="1939" y2="1715"/>
<line x1="437" y1="1383" x2="467" y2="1383"/><line x1="2067" y1="1383" x2="2097" y2="1383"/>
<line x1="437" y1="1051" x2="467" y2="1051"/><line x1="2067" y1="1051" x2="2097" y2="1051"/>
<line x1="437" y1="719" x2="467" y2="719"/><line x1="2067" y1="719" x2="2097" y2="719"/>
<line x1="437" y1="387" x2="467" y2="387"/><line x1="2067" y1="387" x2="2097" y2="387"/>
<rect x="437" y="55" width="1660" height="1660"/>
<path d="M437,53V55 M2097,53V55 M2097,54H2099 M2097,1715H2099"/>
</g>
<rect x="1224" y="301" width="169" height="13" fill="#FF0582" shape-rendering="crispEdges"/>
<text transform="translate(1405,336) scale(1,1.02)" font-size="74" fill="#FF0582" stroke="#FF0582">PA6 neat matrix</text>
<rect x="1224" y="379" width="169" height="13" fill="#0000D2" shape-rendering="crispEdges"/>
<text transform="translate(1405,414.8) scale(1,1.02)" font-size="74" fill="#0000D2" stroke="#0000D2">1 wt% GNPs</text>
<rect x="1224" y="458" width="169" height="12" fill="#005A05" shape-rendering="crispEdges"/>
<text transform="translate(1405,493) scale(1,1.02)" font-size="74" fill="#005A05" stroke="#005A05">3 wt% GNPs</text>
<rect x="1224" y="536" width="169" height="13" fill="#000000" shape-rendering="crispEdges"/>
<text transform="translate(1405,571.3) scale(1,1.02)" font-size="74" fill="#000000" stroke="#000000">5 wt% GNPs</text>
<text transform="translate(395,1736.0) scale(1,1.03)" font-size="74" text-anchor="end" stroke="#000">0</text>
<text transform="translate(395,1404.0) scale(1,1.03)" font-size="74" text-anchor="end" stroke="#000">2</text>
<text transform="translate(395,1072.0) scale(1,1.03)" font-size="74" text-anchor="end" stroke="#000">4</text>
<text transform="translate(395,740.0) scale(1,1.03)" font-size="74" text-anchor="end" stroke="#000">6</text>
<text transform="translate(395,408.0) scale(1,1.03)" font-size="74" text-anchor="end" stroke="#000">8</text>
<text transform="translate(395,76.0) scale(1,1.03)" font-size="74" text-anchor="end" stroke="#000">10</text>
<text transform="translate(555.6,1812) scale(1,1.03)" font-size="74" text-anchor="middle" stroke="#000">8.5</text>
<text transform="translate(753.2,1812) scale(1,1.03)" font-size="74" text-anchor="middle" stroke="#000">9</text>
<text transform="translate(950.8,1812) scale(1,1.03)" font-size="74" text-anchor="middle" stroke="#000">9.5</text>
<text transform="translate(1148.4,1812) scale(1,1.03)" font-size="74" text-anchor="middle" stroke="#000">10</text>
<text transform="translate(1346.0,1812) scale(1,1.03)" font-size="74" text-anchor="middle" stroke="#000">10.5</text>
<text transform="translate(1543.7,1812) scale(1,1.03)" font-size="74" text-anchor="middle" stroke="#000">11</text>
<text transform="translate(1741.3,1812) scale(1,1.03)" font-size="74" text-anchor="middle" stroke="#000">11.5</text>
<text transform="translate(1938.9,1812) scale(1,1.03)" font-size="74" text-anchor="middle" stroke="#000">12</text>
<text transform="translate(1267,1985) scale(1,1.015)" font-size="92.5" text-anchor="middle" stroke="#000">f (GHz)</text>
<text class="sym" transform="translate(105,916.3) rotate(-90) scale(1.15,1.058)" font-size="92.5" letter-spacing="-2.6">ε'</text>
</svg></body></html>
